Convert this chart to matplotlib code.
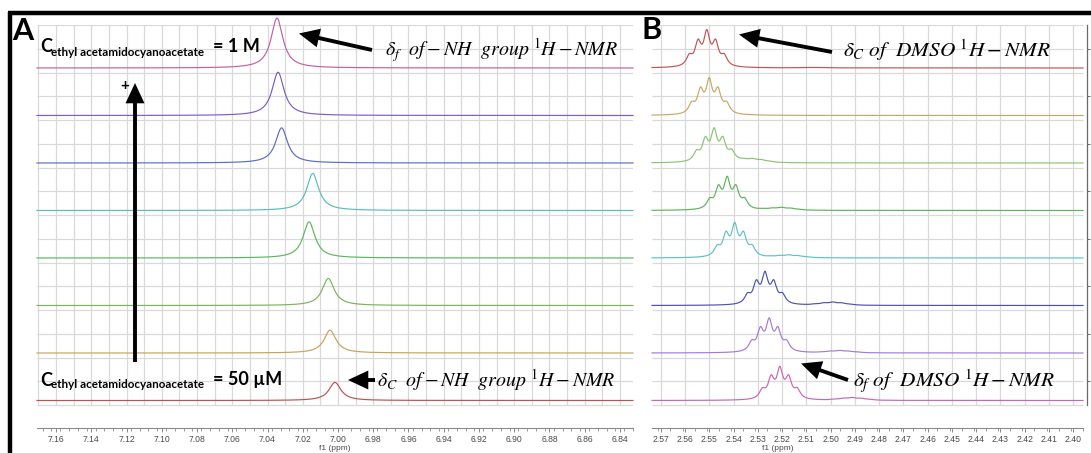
import numpy as np
import matplotlib
matplotlib.use("Agg")
import matplotlib.pyplot as plt
from matplotlib.patches import FancyArrowPatch, ArrowStyle
from matplotlib.lines import Line2D
from matplotlib.transforms import IdentityTransform

W, H, DPI = 1091, 453, 100

# ---------------- data ----------------
# Panel A: -NH proton, traces ordered from 50 uM (bottom) to 1 M (top)
nh_shift = [7.0017, 7.0045, 7.0055, 7.0164, 7.0143, 7.0320, 7.0340, 7.0346]
nh_height = [0.38, 0.48, 0.57, 0.76, 0.78, 0.74, 0.91, 1.05]
nh_fwhm = 0.0082
nh_colors = ["#bf5050", "#c4a45c", "#7cb35c", "#5db65f", "#5cbcbc",
             "#5a6cc6", "#7d5cc2", "#c35fa2"]

# Panel B: residual DMSO quintet, same stacking order
dmso_shift = [2.5209, 2.5253, 2.5270, 2.5395, 2.5426, 2.5480, 2.5500, 2.5510]
dmso_height = [0.72, 0.74, 0.72, 0.75, 0.72, 0.74, 0.80, 0.81]
minor_shift = [2.4910, 2.4960, 2.4990, 2.5170, 2.5200, 2.5320, 2.5060, 2.5060]
minor_height = [0.06, 0.05, 0.07, 0.06, 0.06, 0.08, 0.00, 0.01]
dmso_colors = ["#c866b4", "#a47ad8", "#4c52b2", "#5ec2c2", "#5db45d",
               "#8ec272", "#c6a866", "#c25454"]
quintet_rel = [0.30, 0.70, 1.00, 0.70, 0.30]
quintet_J = 0.0036
dmso_fwhm = 0.0030

a_ticks = [7.16, 7.14, 7.12, 7.10, 7.08, 7.06, 7.04, 7.02, 7.00,
           6.98, 6.96, 6.94, 6.92, 6.90, 6.88, 6.86, 6.84]
b_ticks = [2.57, 2.56, 2.55, 2.54, 2.53, 2.52, 2.51, 2.50, 2.49, 2.48,
           2.47, 2.46, 2.45, 2.44, 2.43, 2.42, 2.41, 2.40]

# ---------------- layout helpers ----------------
BAND_PX = 47.5
BASE_OFF = 4.5 / BAND_PX          # baseline sits a little above band's grid line
N = len(nh_shift)


def lorentz(x, x0, fwhm):
    hw = fwhm / 2.0
    return 1.0 / (1.0 + ((x - x0) / hw) ** 2)


def quintet(x, c, fwhm):
    y = np.zeros_like(x)
    for i, r in enumerate(quintet_rel):
        y += r * lorentz(x, c + (i - 2) * quintet_J, fwhm)
    return y


def fig_axes(x0, x1, ytop, ybot):
    return fig.add_axes([x0 / W, (H - ybot) / H, (x1 - x0) / W, (ybot - ytop) / H])


fig = plt.figure(figsize=(W / DPI, H / DPI), dpi=DPI)
fig.patch.set_facecolor("white")

GRID = "#d9d9d9"
AXC = "#8a8a8a"
ymin = -23 / BAND_PX


def style_axes(ax, xl, xr, data_right, major, minor_step, labels):
    ax.set_xlim(xl, xr)
    ax.set_ylim(ymin, N)
    ax.set_facecolor("none")
    for s in ("left", "top"):
        ax.spines[s].set_visible(False)
    ax.spines["bottom"].set_color(AXC)
    ax.spines["bottom"].set_linewidth(0.8)
    ax.spines["bottom"].set_bounds(xl, data_right)
    ax.set_yticks([])
    ax.set_xticks(major)
    ax.set_xticklabels(labels)
    ax.set_xticks(np.arange(data_right, xl, minor_step), minor=True)
    ax.tick_params(axis="x", which="major", direction="out", length=3.2, width=0.7,
                   color=AXC, labelsize=6.2, labelcolor="#4a4a4a", pad=2.2)
    ax.tick_params(axis="x", which="minor", direction="out", length=2.2, width=0.6,
                   color=AXC)
    for lab in ax.get_xticklabels():
        lab.set_fontfamily("Liberation Sans")
    # grid: vertical lines every 0.01 ppm, horizontal lines every half band
    gx = np.arange(round(data_right, 2), xl, 0.01)
    ax.vlines(gx, 0, N, color=GRID, lw=0.9, zorder=0)
    ax.hlines(np.arange(0, N + 0.01, 0.5), xl, data_right, color=GRID, lw=0.9, zorder=0)


# ---------------- Panel A ----------------
axA = fig_axes(37, 633, 25, 428)
a_left, a_right = 7.1708, 6.8326
style_axes(axA, a_left, a_right, a_right, a_ticks, 0.005,
           [f"{t:.2f}" for t in a_ticks])
axA.spines["right"].set_visible(False)
xa = np.linspace(a_right, a_left, 4000)
for k in range(N):
    y = k + BASE_OFF + nh_height[k] * lorentz(xa, nh_shift[k], nh_fwhm)
    axA.plot(xa, y, color=nh_colors[k], lw=0.85, clip_on=False, zorder=3)

# ---------------- Panel B ----------------
axB = fig_axes(652, 1087, 25, 428)
b_left, b_right, b_data_right = 2.57358, 2.39436, 2.3960
style_axes(axB, b_left, b_right, b_data_right, b_ticks, 0.005,
           [f"{t:.2f}" for t in b_ticks])
axB.spines["right"].set_color("#6a6a6a")
axB.spines["right"].set_linewidth(0.9)
axB.spines["right"].set_bounds(0, N)
axB.yaxis.set_ticks_position("right")
axB.set_yticks(np.arange(0.5, N, 1.0))
axB.tick_params(axis="y", which="major", direction="out", length=2.5, width=0.7,
                color="#6a6a6a", labelright=False, labelleft=False)
xb = np.linspace(b_data_right, b_left, 5000)
for k in range(N):
    prof = quintet(xb, dmso_shift[k], dmso_fwhm)
    prof = prof / prof.max() * dmso_height[k]
    if minor_height[k] > 0:
        sat = quintet(xb, minor_shift[k], dmso_fwhm * 1.3)
        prof = prof + sat / sat.max() * minor_height[k]
    axB.plot(xb, k + BASE_OFF + prof, color=dmso_colors[k], lw=0.85,
             clip_on=False, zorder=3)

# axis titles
fig.text(335 / W, 1 - 448 / H, "f1 (ppm)", ha="center", va="center",
         fontsize=6, color="#4a4a4a", family="Liberation Sans")
fig.text(778 / W, 1 - 448 / H, "f1 (ppm)", ha="center", va="center",
         fontsize=6, color="#4a4a4a", family="Liberation Sans")

# ---------------- frame ----------------
frame_kw = dict(color="black", lw=3.2, solid_capstyle="butt", transform=fig.transFigure)
fig.add_artist(Line2D([8 / W, 1.0], [1 - 13 / H, 1 - 13 / H], **frame_kw))
fig.add_artist(Line2D([10 / W, 10 / W], [1 - 11.5 / H, 0], **frame_kw))


# ---------------- labels ----------------
def ftext(x, y, s, **kw):
    return fig.text(x / W, 1 - y / H, s, **kw)


bold = dict(family="Lato", fontweight="bold", color="black", va="baseline", ha="left")
ftext(12, 40, "A", fontsize=22, **bold)
ftext(642, 39, "B", fontsize=22, **bold)

sub = "ethyl acetamidocyanoacetate"
ftext(40, 52.5, "C", fontsize=13, **bold)
ftext(51, 55.5, sub, fontsize=8.4, **bold)
ftext(213, 52.5, "= 1 M", fontsize=13, **bold)

ftext(40, 385.5, "C", fontsize=13, **bold)
ftext(51, 388.5, sub, fontsize=8.4, **bold)
ftext(213, 385.5, "= 50 \u00b5M", fontsize=13, **bold)

ftext(120, 90, "+", fontsize=11, **bold)

math = dict(math_fontfamily="stix", color="black", va="baseline", ha="left", fontsize=14.3)
ftext(385, 56, r"$\delta_f\ \ of - NH\ \ group\ {}^{1}H - NMR$", **math)
ftext(377, 387, r"$\delta_C\ \ of - NH\ \ group\ {}^{1}H - NMR$", **math)
mathB = dict(math, fontsize=15.3)
ftext(843, 57, r"$\delta_C\ of\ \ DMSO\ {}^{1}H - NMR$", **mathB)
ftext(853, 387, r"$\delta_f\ of\ \ DMSO\ {}^{1}H - NMR$", **mathB)


# ---------------- arrows ----------------
def arrow(x0, y0, x1, y1, lw=2.8, hl=0.9, hw=0.42, ms=11):
    p = FancyArrowPatch((x0, H - y0), (x1, H - y1), transform=IdentityTransform(),
                        arrowstyle=ArrowStyle("-|>", head_length=hl, head_width=hw),
                        mutation_scale=ms, lw=lw, color="black",
                        shrinkA=0, shrinkB=0, joinstyle="miter", capstyle="butt")
    fig.add_artist(p)


arrow(372, 50, 299, 33.5)
arrow(135, 362, 135, 83)
arrow(375, 380, 348, 380)
arrow(832, 52, 739, 34.5)
arrow(848, 380, 801, 363.5)

fig.savefig("out.png", dpi=DPI, facecolor="white")
